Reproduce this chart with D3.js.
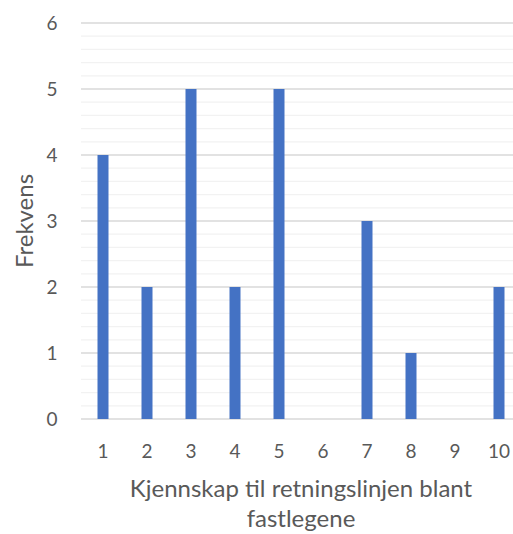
<!DOCTYPE html>
<html>
<head>
<meta charset="utf-8">
<script src="https://cdn.jsdelivr.net/npm/d3@7"></script>
<style>
  body { margin: 0; background: #fff; }
  svg text { font-family: Lato, "Open Sans", sans-serif; fill: #595959; }
</style>
</head>
<body>
<svg width="513" height="534"></svg>
<script>
const categories = ["1", "2", "3", "4", "5", "6", "7", "8", "9", "10"];
const frequencies = [4, 2, 5, 2, 5, 0, 3, 1, 0, 2];
const yTicks = [0, 1, 2, 3, 4, 5, 6];
const xTitleLines = ["Kjennskap til retningslinjen blant", "fastlegene"];
const yTitle = "Frekvens";

const svg = d3.select("svg");
const margin = { top: 23, right: -8, bottom: 115, left: 81 };
const width = +svg.attr("width") - margin.left - margin.right;
const height = +svg.attr("height") - margin.top - margin.bottom;
const g = svg.append("g").attr("transform", `translate(${margin.left},${margin.top})`);

const x = d3.scaleBand()
  .domain(categories)
  .range([0, width])
  .paddingInner(0.75)
  .paddingOuter(0.375);

const y = d3.scaleLinear()
  .domain([0, 6])
  .range([height, 0]);

// minor gridlines
g.append("g")
  .selectAll("line")
  .data(d3.range(0, 6.001, 0.2).filter(v => Math.abs(v - Math.round(v)) > 0.01))
  .join("line")
    .attr("x1", 0)
    .attr("x2", width)
    .attr("y1", d => y(d))
    .attr("y2", d => y(d))
    .attr("stroke", "#f2f2f2")
    .attr("stroke-width", 1.3);

// major gridlines
g.append("g")
  .selectAll("line")
  .data(yTicks)
  .join("line")
    .attr("x1", 0)
    .attr("x2", width)
    .attr("y1", d => y(d))
    .attr("y2", d => y(d))
    .attr("stroke", "#d9d9d9")
    .attr("stroke-width", 1.3);

g.selectAll("rect.bar")
  .data(frequencies)
  .join("rect")
    .attr("class", "bar")
    .attr("x", (d, i) => x(categories[i]))
    .attr("y", d => y(d))
    .attr("width", x.bandwidth())
    .attr("height", d => height - y(d))
    .attr("fill", "#4472C4");

g.append("g")
  .selectAll("text")
  .data(yTicks)
  .join("text")
    .attr("x", -29)
    .attr("y", d => y(d))
    .attr("dy", "0.35em")
    .attr("text-anchor", "middle")
    .style("font-size", "19px")
    .text(d => d);

g.append("g")
  .selectAll("text")
  .data(categories)
  .join("text")
    .attr("x", d => x(d) + x.bandwidth() / 2)
    .attr("y", height + 39)
    .attr("text-anchor", "middle")
    .style("font-size", "19px")
    .text(d => d);

g.append("text")
  .attr("transform", "rotate(-90)")
  .attr("x", -height / 2)
  .attr("y", -48)
  .attr("text-anchor", "middle")
  .style("font-size", "24px")
  .text(yTitle);

xTitleLines.forEach((line, i) => {
  svg.append("text")
    .attr("x", 301)
    .attr("y", 497 + i * 30)
    .attr("text-anchor", "middle")
    .style("font-size", "24px")
    .text(line);
});
</script>
</body>
</html>
